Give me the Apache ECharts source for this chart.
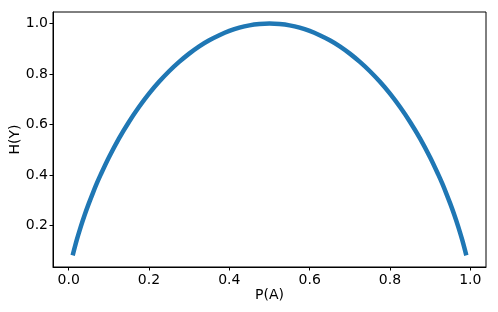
<!DOCTYPE html>
<html>
<head>
<meta charset="utf-8">
<script src="https://cdn.jsdelivr.net/npm/echarts@6/dist/echarts.min.js"></script>
<style>html,body{margin:0;padding:0;background:#fff}#c{width:498px;height:312px}</style>
</head>
<body>
<div id="c"></div>
<script>
const pA = [0.01,0.02,0.03,0.04,0.05,0.06,0.07,0.08,0.1,0.125,0.15,0.175,0.2,0.225,0.25,0.275,0.3,0.325,0.35,0.375,0.4,0.425,0.45,0.475,0.5,
            0.525,0.55,0.575,0.6,0.625,0.65,0.675,0.7,0.725,0.75,0.775,0.8,0.825,0.85,0.875,0.9,0.92,0.93,0.94,0.95,0.96,0.97,0.98,0.99];
const hY = [0.081,0.141,0.194,0.242,0.286,0.327,0.366,0.402,0.469,0.544,0.610,0.669,0.722,0.769,0.811,0.848,0.881,0.910,0.934,0.954,0.971,0.984,0.993,0.998,1.0,
            0.998,0.993,0.984,0.971,0.954,0.934,0.910,0.881,0.848,0.811,0.769,0.722,0.669,0.610,0.544,0.469,0.402,0.366,0.327,0.286,0.242,0.194,0.141,0.081];
const xTicks = [0.0,0.2,0.4,0.6,0.8,1.0];
const yTicks = [0.2,0.4,0.6,0.8,1.0];
const xLabel = 'P(A)';
const yLabel = 'H(Y)';

const font = 'DejaVu Sans';
const chart = echarts.init(document.getElementById('c'), null, {renderer:'canvas'});
const axisCommon = {
  axisLine:{show:true,onZero:false,lineStyle:{color:'#000',width:1}},
  splitLine:{show:false},
  axisTick:{show:true,length:3.5,inside:false,lineStyle:{color:'#000',width:1}},
  nameTextStyle:{fontFamily:font,fontSize:14,color:'#000'},
  nameMoveOverlap:false
};
chart.setOption({
  animation:false,
  grid:{left:53,right:12,top:12,bottom:45,show:true,borderColor:'#000',borderWidth:1,containLabel:false,outerBoundsMode:'none'},
  xAxis:Object.assign({}, axisCommon, {
    type:'value', min:-0.039, max:1.039,
    name:xLabel, nameLocation:'middle', nameGap:21,
    axisTick:Object.assign({}, axisCommon.axisTick, {customValues:xTicks}),
    axisLabel:{customValues:xTicks, fontFamily:font, fontSize:14, color:'#000', margin:6,
      formatter:v=>v.toFixed(1)}
  }),
  yAxis:Object.assign({}, axisCommon, {
    type:'value', min:0.0348, max:1.046,
    name:yLabel, nameLocation:'middle', nameGap:31, nameRotate:90,
    axisTick:Object.assign({}, axisCommon.axisTick, {customValues:yTicks}),
    axisLabel:{customValues:yTicks, fontFamily:font, fontSize:14, color:'#000', margin:5,
      formatter:v=>v.toFixed(1)}
  }),
  series:[{
    type:'line', data:pA.map((p,i)=>[p,hY[i]]), smooth:0.3, showSymbol:false,
    lineStyle:{color:'#1f77b4',width:4.5,cap:'butt'}
  }]
});
</script>
</body>
</html>
